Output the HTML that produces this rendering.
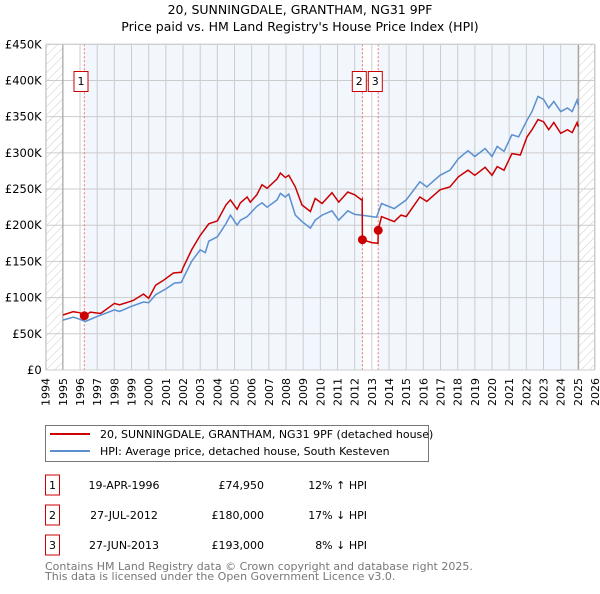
<!DOCTYPE html>
<html><head><meta charset="utf-8"><style>
body{margin:0;background:#fff;width:600px;height:590px;overflow:hidden;font-family:"DejaVu Sans","Liberation Sans",sans-serif}
svg text{font-family:"DejaVu Sans","Liberation Sans",sans-serif}
</style></head><body>
<svg id="chart" width="600" height="590" xmlns="http://www.w3.org/2000/svg">
<defs><pattern id="hatch" width="6" height="6" patternUnits="userSpaceOnUse" patternTransform="rotate(45)"><line x1="0" y1="0" x2="0" y2="6" stroke="#ccc" stroke-width="1"/></pattern></defs>
<text x="300" y="14" font-size="12.5" text-anchor="middle">20, SUNNINGDALE, GRANTHAM, NG31 9PF</text>
<text x="300" y="31" font-size="12.5" text-anchor="middle">Price paid vs. HM Land Registry's House Price Index (HPI)</text>
<g id="plot"></g>
<rect x="45.5" y="425.5" width="383" height="36" fill="#fff" stroke="#777"/>
<line x1="50" y1="434" x2="90" y2="434" stroke="#cc0000" stroke-width="2"/>
<text x="100" y="438" font-size="11">20, SUNNINGDALE, GRANTHAM, NG31 9PF (detached house)</text>
<line x1="50" y1="451" x2="90" y2="451" stroke="#5b8fd0" stroke-width="2"/>
<text x="100" y="455" font-size="11">HPI: Average price, detached house, South Kesteven</text>
<g id="table" font-size="11"></g>
<text x="45" y="570" font-size="11" fill="#777">Contains HM Land Registry data © Crown copyright and database right 2025.</text>
<text x="45" y="580" font-size="11" fill="#777">This data is licensed under the Open Government Licence v3.0.</text>
</svg>
<script>
const yTicks=[0,50,100,150,200,250,300,350,400,450];
const yTickLabels=["£0","£50K","£100K","£150K","£200K","£250K","£300K","£350K","£400K","£450K"];
const xYears=[1994,1995,1996,1997,1998,1999,2000,2001,2002,2003,2004,2005,2006,2007,2008,2009,2010,2011,2012,2013,2014,2015,2016,2017,2018,2019,2020,2021,2022,2023,2024,2025,2026];
const hpiT=[1995,1995.6,1996,1996.3,1997,1998,1998.3,1999,1999.7,2000,2000.4,2001,2001.5,2001.9,2002,2002.5,2003,2003.3,2003.5,2004,2004.5,2004.76,2005.15,2005.34,2005.73,2006.3,2006.6,2006.9,2007.48,2007.67,2007.96,2008.16,2008.54,2008.93,2009.42,2009.7,2010.1,2010.68,2011.07,2011.6,2012,2012.4,2013.27,2013.56,2014.3,2015,2015.8,2016.2,2016.97,2017.55,2018.04,2018.6,2019,2019.6,2020,2020.3,2020.7,2021.16,2021.55,2022.04,2022.33,2022.68,2023,2023.3,2023.6,2024,2024.4,2024.67,2024.96,2025.02];
const hpiV=[69,73,70,67,74,83,81,88,94,93,104,112,120,121,126,150,166,162,178,184,202,214,200,207,212,226,231,225,235,244,239,243,214,205,196,207,214,220,207,220,215,214,211,230,223,235,260,253,269,276,292,303,295,306,295,309,302,325,322,345,357,378,374,362,371,357,362,357,373,366];
const priceT=[1995,1995.6,1996,1996.3,1996.6,1997.2,1998,1998.3,1999.1,1999.7,2000,2000.4,2000.86,2001.44,2001.9,2002,2002.5,2003,2003.5,2004,2004.5,2004.76,2005.15,2005.34,2005.73,2005.92,2006.3,2006.6,2006.9,2007.48,2007.67,2007.96,2008.16,2008.54,2008.93,2009.42,2009.7,2010.1,2010.68,2011.07,2011.6,2012,2012.4,2012.44,2012.45,2013,2013.36,2013.37,2013.56,2014.3,2014.7,2015,2015.8,2016.2,2016.97,2017.55,2018.04,2018.6,2019,2019.6,2020,2020.3,2020.7,2021.16,2021.65,2022.04,2022.33,2022.68,2023,2023.3,2023.6,2024,2024.4,2024.67,2024.96,2025.02];
const priceV=[76,80.5,79,75,80,78,92,90,96,105,99,117,124,134,135,141,166,186,202,206,228,235,222,231,239,232,242,256,251,264,272,266,269,253,228,219,237,230,245,232,246,242,235,236,180,176,175,193,212,205,214,212,239,233,249,253,267,276,269,280,269,281,276,299,297,322,332,346,343,332,342,327,332,328,342,336];
const salesT=[1996.25,2012.45,2013.37];
const salesV=[74.95,180,193];
const salesLabel=["1","2","3"];
const tblDate=["19-APR-1996","27-JUL-2012","27-JUN-2013"];
const tblPrice=["£74,950","£180,000","£193,000"];
const tblHpi=["12% ↑ HPI","17% ↓ HPI","8% ↓ HPI"];

const X0=45.7,X1=595,Y0=370,Y1=44.3;
const x=t=>X0+(t-1994)/(2026-1994)*(X1-X0);
const y=v=>Y0-v/450*(Y0-Y1);
const NS="http://www.w3.org/2000/svg";
const plot=document.getElementById('plot');
function mk(tag,attrs,parent){const e=document.createElementNS(NS,tag);for(const k in attrs)e.setAttribute(k,attrs[k]);(parent||plot).appendChild(e);return e;}

let e;
e=mk('rect',{x:X0,y:Y1,width:X1-X0,height:Y0-Y1,fill:'#fff'});


e=mk('rect',{x:x(salesT[0]),y:Y1,width:x(salesT[1])-x(salesT[0]),height:Y0-Y1,fill:'#f2f6fd'});


e=mk('rect',{x:x(salesT[2]),y:Y1,width:x(2025.05)-x(salesT[2]),height:Y0-Y1,fill:'#f2f6fd'});


e=mk('rect',{x:X0,y:Y1,width:x(1995)-X0,height:Y0-Y1,fill:'url(#hatch)'});


e=mk('rect',{x:x(2025.05),y:Y1,width:X1-x(2025.05),height:Y0-Y1,fill:'url(#hatch)'});



yTicks.forEach((v,i)=>{
  e=mk('line',{x1:X0,x2:X1,y1:y(v),y2:y(v),stroke:'#ccc','stroke-width':1});
  
  
  e=mk('text',{x:X0-4,y:y(v)+4,'text-anchor':'end','font-size':11.5});
  
  
  e.textContent=yTickLabels[i];
});
xYears.forEach(t=>{
  e=mk('line',{x1:x(t),x2:x(t),y1:Y1,y2:Y0,stroke:'#ccc','stroke-width':1});
  
  
  e=mk('text',{x:0,y:0,'text-anchor':'end','font-size':11,transform:`translate(${x(t)+4},378) rotate(-90)`});
  
  
  e.textContent=t;
});
e=mk('line',{x1:x(1995),x2:x(1995),y1:Y1,y2:Y0,stroke:'#999','stroke-width':1});


e=mk('line',{x1:x(2025.05),x2:x(2025.05),y1:Y1,y2:Y0,stroke:'#999','stroke-width':1});



salesT.forEach((t,i)=>{
  e=mk('line',{x1:x(t),x2:x(t),y1:Y1,y2:Y0,stroke:'#f07070','stroke-width':1,'stroke-dasharray':'2,2'});
  
  
});

function path(ts,vs){return ts.map((t,i)=>(i?'L':'M')+x(t).toFixed(1)+','+y(vs[i]).toFixed(1)).join('');}
e=mk('path',{d:path(hpiT,hpiV),fill:'none',stroke:'#5b8fd0','stroke-width':1.5});


e=mk('path',{d:path(priceT,priceV),fill:'none',stroke:'#cc0000','stroke-width':1.5});



const badgeOffset=[-10,-10,-10];
salesT.forEach((t,i)=>{
  e=mk('circle',{cx:x(t),cy:y(salesV[i]),r:4.5,fill:'#cc0000'});
  
  
  const lx=i===2?x(t)-10:x(t)-10;
  const bx=[74,352.3,368.3][i];
  e=mk('rect',{x:bx,y:71.5,width:14,height:20,fill:'#fff',stroke:'#cc0000','stroke-width':1});
  
  
  e=mk('text',{x:bx+7,y:85,'text-anchor':'middle','font-size':11});
  
  
  e.textContent=salesLabel[i];
});
e=mk('rect',{x:X0+.5,y:Y1,width:X1-X0-1,height:Y0-Y1,fill:'none',stroke:'#ccc'});



const tbl=document.getElementById('table');
salesLabel.forEach((s,i)=>{
  const cy=485+i*30;
  e=mk('rect',{x:45.5,y:cy-10,width:14,height:20,fill:'#fff',stroke:'#cc0000'},tbl);
  
  
  e=mk('text',{x:52.5,y:cy+4,'text-anchor':'middle'},tbl);
  
  
  e.textContent=s;
  e=mk('text',{x:124,y:cy+4,'text-anchor':'middle'},tbl);
  
  
  e.textContent=tblDate[i];
  e=mk('text',{x:264,y:cy+4,'text-anchor':'end'},tbl);
  
  
  e.textContent=tblPrice[i];
  e=mk('text',{x:367,y:cy+4,'text-anchor':'end'},tbl);
  
  
  e.textContent=tblHpi[i];
});
</script>
</body></html>
